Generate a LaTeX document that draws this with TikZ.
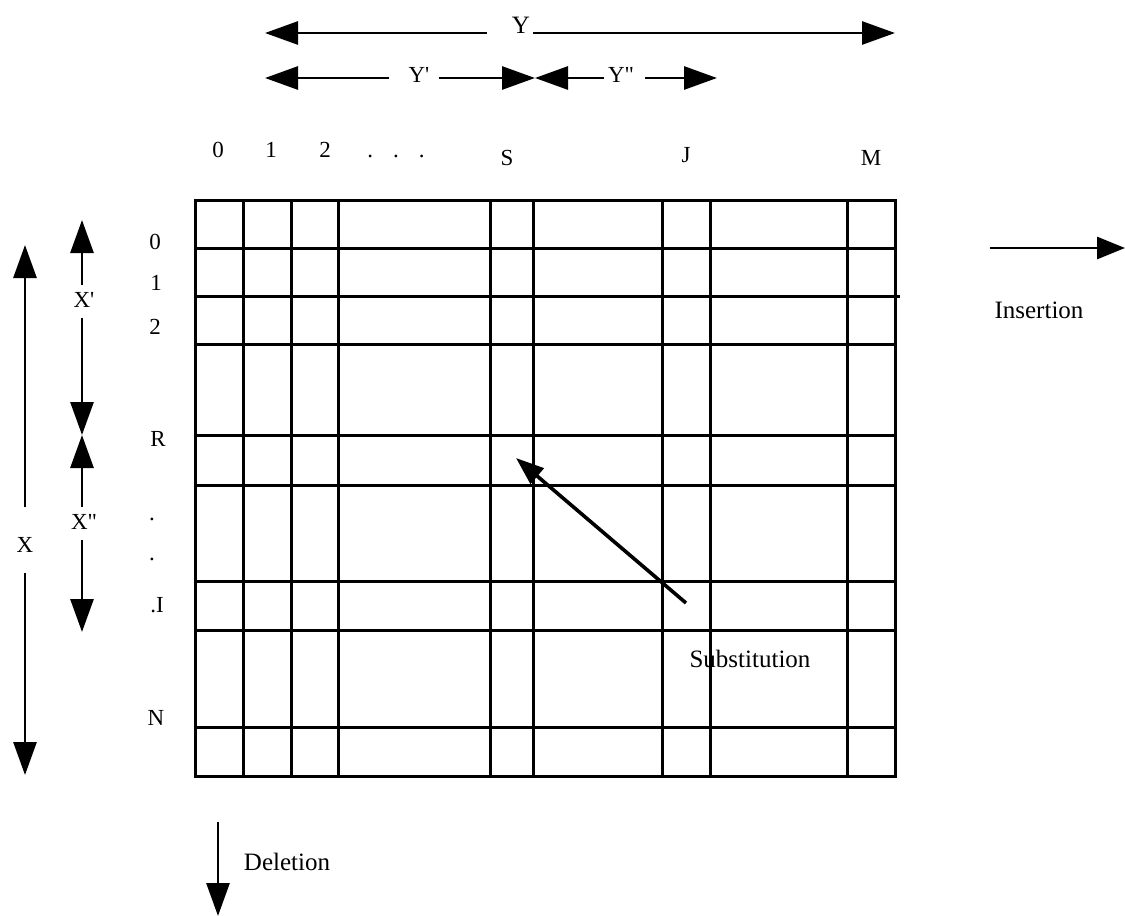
\documentclass[tikz,border=0pt]{standalone}
\usepackage{fontspec}
\setmainfont{Liberation Serif}
\usetikzlibrary{arrows.meta,calc}
\begin{document}
\begin{tikzpicture}[x=1pt,y=-1pt,
  gridline/.style={line width=3pt, line cap=rect},
  dimarrow/.style={line width=2.8pt, -{Triangle[length=33pt,width=23pt]}},
  subarrow/.style={line width=3.6pt, -{Triangle[length=28pt,width=20pt]}},
  lbl/.style={font=\fontsize{23}{25}\selectfont, inner sep=0pt, anchor=base},
  word/.style={font=\fontsize{25}{27}\selectfont, inner sep=0pt, anchor=base}]
\useasboundingbox (0,0) rectangle (1125,916);
% grid
\foreach \x in {195,243,291,338,490,533,662,710,847,895}
  \draw[gridline] (\x,200) -- (\x,776);
\foreach \y in {200,248,344,435,485,581,630,727,776}
  \draw[gridline] (195,\y) -- (895,\y);
\draw[gridline] (195,296) -- (898,296);
% column labels
\node[lbl] (c0) at (218,157) {0};
\node[lbl] (c1) at (271,157) {1};
\node[lbl] (c2) at (325,157) {2};
\node[lbl] (cdots) at (396,157) {.\hspace{20pt}.\hspace{20pt}.};
\node[lbl] (cS) at (507,165) {S};
\node[lbl] (cJ) at (686,162) {J};
\node[lbl] (cM) at (871,165) {M};
% row labels
\node[lbl] (r0) at (155,249) {0};
\node[lbl] (r1) at (156,290) {1};
\node[lbl] (r2) at (155,334) {2};
\node[lbl] (rR) at (158,446) {R};
\node[lbl] (rd1) at (152,520) {.};
\node[lbl] (rd2) at (152,560) {.};
\node[lbl] (rI) at (157,612) {.I};
\node[lbl] (rN) at (156,725) {N};
% Y arrows
\node[lbl, font=\fontsize{25}{27}\selectfont] (Y) at (521,33) {Y};
\coordinate (YL) at (265,33);
\coordinate (YR) at (895,33);
\draw[dimarrow, shorten <=25pt] (Y.west |- YL) -- (YL);
\draw[dimarrow, shorten <=3pt] (Y.east |- YR) -- (YR);
\node[lbl] (Yp) at (419,82) {Y\textquotesingle};
\node[lbl] (Ypp) at (621,82) {Y\textquotedbl};
\coordinate (YpL) at (265,78);
\coordinate (Ymid) at (535,78);
\coordinate (YppR) at (717,78);
\draw[dimarrow, shorten <=19pt] (Yp.west |- YpL) -- (YpL);
\draw[dimarrow, shorten <=9pt] (Yp.east |- Ymid) -- (Ymid);
\draw[dimarrow, shorten <=4pt] (Ypp.west |- Ymid) -- (Ymid);
\draw[dimarrow, shorten <=11pt] (Ypp.east |- YppR) -- (YppR);
% X arrows
\node[lbl, anchor=center] (X) at (25,545) {X};
\coordinate (XT) at (25,245);
\coordinate (XB) at (25,775);
\draw[dimarrow, shorten <=30pt] (X.north -| XT) -- (XT);
\draw[dimarrow, shorten <=20pt] (X.south -| XB) -- (XB);
\node[lbl, anchor=center] (Xp) at (84,300) {X\textquotesingle};
\node[lbl, anchor=center] (Xpp) at (84,522) {X\textquotedbl};
\coordinate (XpT) at (82,220);
\coordinate (Xmid) at (82,435);
\coordinate (XppB) at (82,632);
\draw[dimarrow, shorten <=7pt] (Xp.north -| XpT) -- (XpT);
\draw[dimarrow, shorten <=10pt] (Xp.south -| Xmid) -- (Xmid);
\draw[dimarrow, shorten <=7pt] (Xpp.north -| Xmid) -- (Xmid);
\draw[dimarrow, shorten <=10pt] (Xpp.south -| XppB) -- (XppB);
% substitution
\coordinate (subT) at (686,603);
\coordinate (subH) at (516,458);
\draw[subarrow] (subT) -- (subH);
\node[word] (sub) at (750,667) {Substitution};
% insertion
\coordinate (insS) at (990,248);
\coordinate (insE) at (1125,248);
\draw[dimarrow, -{Triangle[length=28pt,width=22pt]}] (insS) -- (insE);
\node[word] (ins) at (1039,318) {Insertion};
% deletion
\coordinate (delS) at (218,822);
\coordinate (delE) at (218,916);
\draw[dimarrow] (delS) -- (delE);
\node[word] (del) at (287,870) {Deletion};
\end{tikzpicture}
\end{document}
